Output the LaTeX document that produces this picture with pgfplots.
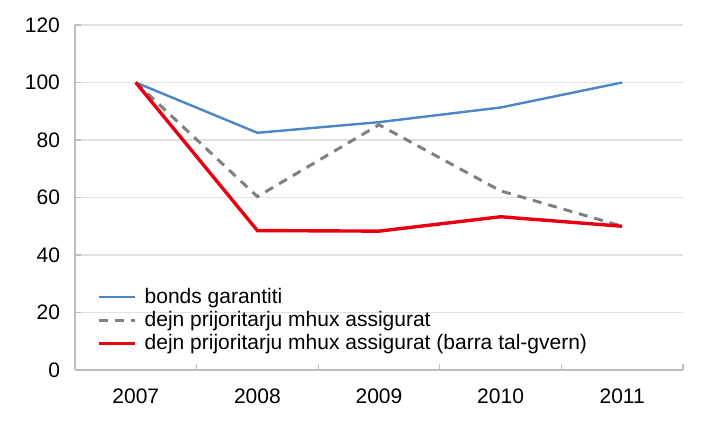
\documentclass[border=0pt]{standalone}
\usepackage{fontspec}
\setmainfont{Liberation Sans}
\usepackage{pgfplots}
\pgfplotsset{compat=1.18}

\definecolor{bondblue}{RGB}{74,134,200}
\definecolor{dashgray}{RGB}{128,128,128}
\definecolor{linered}{RGB}{232,0,18}
\definecolor{gridgray}{RGB}{225,225,225}
\definecolor{axisgray}{RGB}{190,190,190}

\begin{document}
\begin{tikzpicture}
\begin{axis}[
    scale only axis,
    width=304pt,
    height=172.5pt,
    xmin=-0.5, xmax=4.5,
    ymin=0, ymax=120,
    xtick={0,1,2,3,4},
    xticklabels={2007,2008,2009,2010,2011},
    minor xtick={0.5,1.5,2.5,3.5,4.5},
    ytick={0,20,40,60,80,100,120},
    minor ytick={0,20,40,60,80,100,120},
    axis x line*=bottom,
    axis y line*=left,
    axis line style={axisgray, line width=0.6pt, -},
    major tick length=0pt,
    minor tick length=3pt,
    minor tick style={axisgray, line width=0.6pt},
    ymajorgrids=true,
    grid style={gridgray, line width=0.8pt},
    tick label style={font=\fontsize{10.5}{12}\selectfont, /pgf/number format/assume math mode=true},
    xticklabel style={yshift=-6pt},
    yticklabel style={xshift=-4pt},
    legend style={at={(rel axis cs:0.036,0.25)}, anchor=north west, draw=none, fill=none,
        font=\fontsize{10.5}{12}\selectfont, row sep=-1.6pt, inner sep=0pt},
    legend cell align=left,
    legend image code/.code={\draw[#1] (0pt,0pt) -- (18pt,0pt); \path (20pt,0pt);},
    clip=false,
]
\addplot[color=bondblue, line width=1.2pt] coordinates {
    (0,100)(1,82.5)(2,86.2)(3,91.3)(4,100)
};
\addlegendentry{bonds garantiti}
\addplot[color=dashgray, line width=1.5pt, dash pattern=on 4.5pt off 3.5pt] coordinates {
    (0,100)(1,60.3)(2,85.3)(3,62.3)(4,50)
};
\addlegendentry{dejn prijoritarju mhux assigurat}
\addplot[color=linered, line width=1.7pt] coordinates {
    (0,100)(1,48.5)(2,48.3)(3,53.3)(4,50)
};
\addlegendentry{dejn prijoritarju mhux assigurat (barra tal-gvern)}
\end{axis}
\path (current axis.south west) ++(-37.5pt,-26.5pt) rectangle ++(357pt,211.5pt);
\end{tikzpicture}
\end{document}
